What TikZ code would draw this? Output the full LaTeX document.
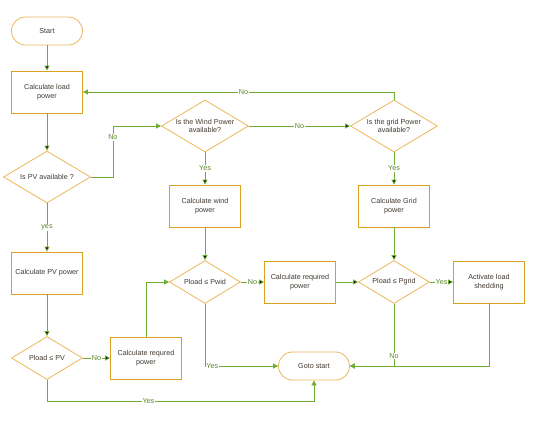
\documentclass[tikz,border=0pt]{standalone}
\usepackage{amsmath}
\usepackage{fontspec}
\setmainfont{Liberation Sans}
\usepackage{tikz}
\usetikzlibrary{positioning,shapes.geometric,arrows.meta}
\definecolor{boxline}{RGB}{218,160,30}
\definecolor{termline}{RGB}{236,182,92}
\definecolor{flow}{RGB}{110,172,50}
\definecolor{flowtext}{RGB}{88,135,40}
\definecolor{ink}{RGB}{64,56,48}

\begin{document}
\begin{tikzpicture}[x=1pt,y=-1pt,on grid,
        every node/.style={font=\fontsize{7.2}{8.6}\selectfont,text=ink},
        term/.style={draw=termline,line width=0.8pt,rounded corners=14pt,minimum width=71pt,minimum height=28pt},
        proc/.style={draw=boxline,line width=0.8pt,minimum width=71pt,minimum height=42pt,align=center},
        dec/.style={diamond,draw=termline,line width=0.8pt,inner sep=0pt,shape aspect=1.7,minimum width=71pt,minimum height=43pt,align=center},
        bigdec/.style={dec,minimum width=87pt,minimum height=52pt},
        lbl/.style={fill=white,inner sep=0.8pt,text=flowtext},
        >={Triangle[width=5pt,length=5pt]}]
        \useasboundingbox (0,0) rectangle (536,421);
        \node[term] (start) at (47,31) {Start};
        \node[proc] (load) [below=61pt of start] {Calculate load\\power};
        \node[bigdec] (pv) [below=85pt of load] {Is PV available ?};
        \node[proc] (pvpow) [below=96pt of pv] {Calculate PV power};
        \node[dec] (pvle) [below=85pt of pvpow] {Pload ≤ PV};
        \node[proc] (req1) [right=99pt of pvle] {Calculate requred\\power};
        \node[bigdec] (wind) [above right=51pt and 158pt of pv] {Is the Wind Power\\available?};
        \node[bigdec] (grid) [right=189pt of wind] {Is the grid Power\\available?};
        \node[proc] (windpow) [below=80pt of wind] {Calculate wind\\power};
        \node[proc] (gridpow) [below=80pt of grid] {Calculate Grid\\power};
        \node[dec] (pwid) [below=76pt of windpow] {Pload ≤ Pwid};
        \node[proc] (req2) [right=95pt of pwid] {Calculate required\\power};
        \node[dec] (pgrid) [right=94pt of req2] {Pload ≤ Pgrid};
        \node[proc] (shed) [right=95pt of pgrid] {Activate load\\shedding};
        \node[term] (goto) [below right=84pt and 109pt of pwid] {Goto start};
        \path[->,draw=flow,line width=0.8pt]
        (start) edge (load)
        (load) edge (pv)
        (pv) edge node[lbl] {yes} (pvpow)
        (pvpow) edge (pvle)
        (pvle) edge node[lbl] {No} (req1)
        (wind) edge node[lbl] {No} (grid)
        (wind) edge node[lbl] {Yes} (windpow)
        (grid) edge node[lbl] {Yes} (gridpow)
        (windpow) edge (pwid)
        (gridpow) edge (pgrid)
        (pwid) edge node[lbl] {No} (req2)
        (req2) edge (pgrid)
        (pgrid) edge node[lbl] {Yes} (shed);
        \draw[->,flow,line width=0.8pt] (pv.east) -- ++(22,0) |- node[lbl,pos=0.39] {No} (wind.west);
        \draw[->,flow,line width=0.8pt] (grid.north) |- node[lbl,pos=0.742] {No} (load.east);
        \draw[->,flow,line width=0.8pt] (req1.north) |- (pwid.west);
        \draw[->,flow,line width=0.8pt] (pgrid.south) |- node[lbl,pos=0.42] {No} (goto.east);
        \draw[->,flow,line width=0.8pt] (shed.south) |- (goto.east);
        \draw[->,flow,line width=0.8pt] (pwid.south) |- node[lbl,pos=0.55] {Yes} (goto.west);
        \draw[->,flow,line width=0.8pt] (pvle.south) -- ++(0,21) -| node[lbl,pos=0.19] {Yes} (goto.south);
    \end{tikzpicture}
\end{document}
